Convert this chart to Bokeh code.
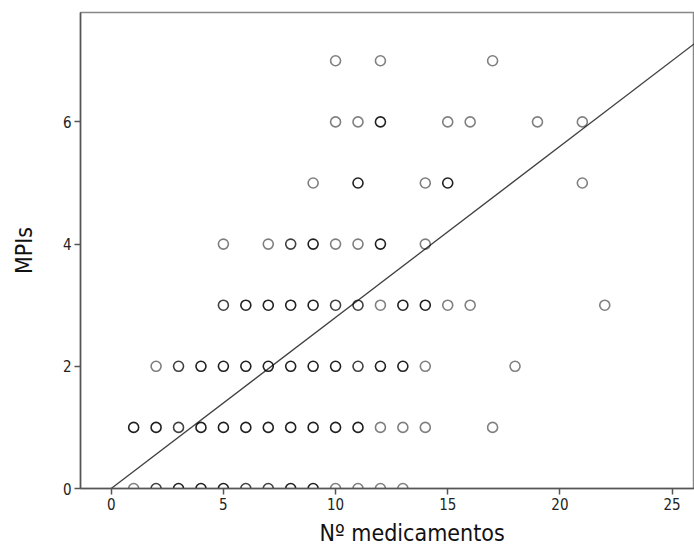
from bokeh.plotting import figure
from bokeh.models import Range1d, FixedTicker, ColumnDataSource, Title
from bokeh.embed import file_html
from bokeh.resources import INLINE

# ---- data ----
x_ticks = [0, 5, 10, 15, 20, 25]
y_ticks = [0, 2, 4, 6]

# N.º medicamentos per point, MPIs per point, and estimated overlap count (darkness)
med = [10, 12, 17,
       10, 11, 12, 15, 16, 19, 21,
       9, 11, 14, 15, 21,
       5, 7, 8, 9, 10, 11, 12, 14,
       5, 6, 7, 8, 9, 10, 11, 12, 13, 14, 15, 16, 22,
       2, 3, 4, 5, 6, 7, 8, 9, 10, 11, 12, 13, 14, 18,
       1, 2, 3, 4, 5, 6, 7, 8, 9, 10, 11, 12, 13, 14, 17,
       1, 2, 3, 4, 5, 6, 7, 8, 9, 10, 11, 12, 13]
mpis = [7, 7, 7,
        6, 6, 6, 6, 6, 6, 6,
        5, 5, 5, 5, 5,
        4, 4, 4, 4, 4, 4, 4, 4,
        3, 3, 3, 3, 3, 3, 3, 3, 3, 3, 3, 3, 3,
        2, 2, 2, 2, 2, 2, 2, 2, 2, 2, 2, 2, 2, 2,
        1, 1, 1, 1, 1, 1, 1, 1, 1, 1, 1, 1, 1, 1, 1,
        0, 0, 0, 0, 0, 0, 0, 0, 0, 0, 0, 0, 0]
overlap = [1, 1, 1,
           1, 1, 3, 1, 1, 1, 1,
           1, 3, 1, 3, 1,
           1, 1, 2, 3, 1, 1, 3, 1,
           2, 3, 3, 3, 3, 2, 2, 1, 3, 3, 1, 1, 1,
           1, 2, 3, 3, 3, 3, 3, 3, 3, 2, 3, 3, 1, 1,
           3, 3, 2, 3, 3, 3, 3, 3, 3, 3, 3, 1, 1, 1, 1,
           1, 2, 3, 3, 3, 2, 2, 3, 3, 1, 1, 1, 1]

x_label = "Nº medicamentos"
y_label = "MPIs"

fit_slope = 0.28  # fit line through the origin

x_start, x_end = -1.37, 26.0
y_start, y_end = 0.0, 7.79

base_alpha = 0.5
alphas = [1 - (1 - base_alpha) ** k for k in overlap]
src = ColumnDataSource(dict(x=med, y=mpis, a=alphas))

narrow = "'DejaVu Sans Condensed', 'Liberation Sans Narrow', 'DejaVu Sans', sans-serif"

p = figure(width=694, height=553, output_backend="svg", toolbar_location=None,
           x_range=Range1d(x_start, x_end), y_range=Range1d(y_start, y_end),
           min_border_left=80, min_border_right=0, min_border_top=12,
           min_border_bottom=65)
p.background_fill_color = "white"
p.border_fill_color = "white"
p.outline_line_color = "#888888"
p.outline_line_width = 1.5
p.grid.visible = False

for ax in (p.xaxis[0], p.yaxis[0]):
    ax.axis_line_color = "#555555"
    ax.axis_line_width = 1.5
    ax.major_tick_line_color = "#555555"
    ax.major_tick_line_width = 1.5
    ax.major_tick_out = 6
    ax.major_tick_in = 0
    ax.minor_tick_line_color = None
    ax.major_label_text_font = narrow
    ax.major_label_text_font_size = "15px"
    ax.major_label_text_color = "#222222"
    ax.major_label_standoff = 3

p.xaxis.ticker = FixedTicker(ticks=x_ticks)
p.yaxis.ticker = FixedTicker(ticks=y_ticks)

p.yaxis.axis_label = y_label
p.yaxis.axis_label_text_font = narrow
p.yaxis.axis_label_text_font_size = "23px"
p.yaxis.axis_label_text_font_style = "normal"
p.yaxis.axis_label_text_color = "#111111"
p.yaxis.axis_label_standoff = 23

# x title (SPSS centres it slightly right of the visible frame)
p.add_layout(Title(text=x_label, align="left", offset=239, standoff=11,
                   text_font=narrow, text_font_size="23px", text_font_style="normal",
                   text_color="#111111"), "below")

# fit line
p.line(x=[0, x_end + 1], y=[0, fit_slope * (x_end + 1)], line_color="#404040", line_width=1.3)

# points (open circles; darkness reflects overlapping cases)
p.scatter(x="x", y="y", source=src, marker="circle", size=10, fill_color=None,
          line_color="black", line_alpha="a", line_width=1.6)

open("out.html", "w").write(file_html(p, INLINE))
